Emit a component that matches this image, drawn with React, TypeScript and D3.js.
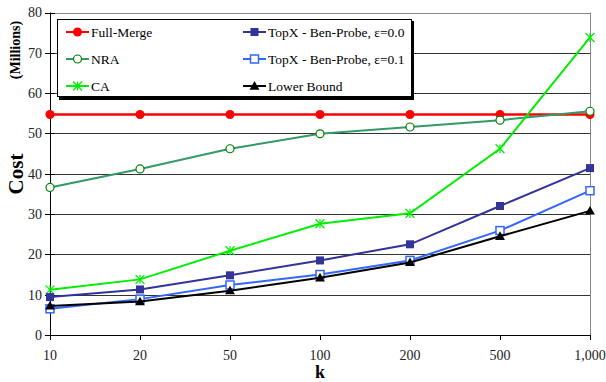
import React from 'react';
import * as d3 from 'd3';

const kValues = ['10', '20', '50', '100', '200', '500', '1,000'];
const yTicks = [0, 10, 20, 30, 40, 50, 60, 70, 80];

const fullMerge = [54.7, 54.7, 54.7, 54.7, 54.7, 54.7, 54.7];
const nra = [36.6, 41.2, 46.2, 49.9, 51.6, 53.3, 55.5];
const ca = [11.2, 13.8, 20.9, 27.6, 30.2, 46.2, 73.8];
const topx00 = [9.4, 11.3, 14.8, 18.5, 22.5, 32.0, 41.4];
const topx01 = [6.5, 8.9, 12.4, 15.0, 18.5, 25.9, 35.8];
const lowerBound = [7.2, 8.3, 11.0, 14.2, 18.0, 24.5, 30.8];

type Marker = 'dot' | 'ring' | 'star' | 'square' | 'openSquare' | 'triangle';

const seriesList: { name: string; values: number[]; color: string; marker: Marker; edge?: string }[] = [
  { name: 'Full-Merge', values: fullMerge, color: '#ff0000', marker: 'dot' },
  { name: 'NRA', values: nra, color: '#339966', marker: 'ring', edge: '#008000' },
  { name: 'CA', values: ca, color: '#00ee00', marker: 'star' },
  { name: 'TopX - Ben-Probe, ε=0.0', values: topx00, color: '#333399', marker: 'square' },
  { name: 'TopX - Ben-Probe, ε=0.1', values: topx01, color: '#3366ff', marker: 'openSquare' },
  { name: 'Lower Bound', values: lowerBound, color: '#000000', marker: 'triangle' },
];

const W = 606;
const H = 382;
const margin = { left: 50, right: 16, top: 12.5, bottom: 47 };
const font = "'Liberation Serif', 'Times New Roman', serif";

function MarkerShape({ kind, x, y, color, edge }: { kind: Marker; x: number; y: number; color: string; edge?: string }) {
  if (kind === 'dot') return <circle cx={x} cy={y} r={4.5} fill={color} />;
  if (kind === 'ring') return <circle cx={x} cy={y} r={4} fill="#fff" stroke={edge || color} strokeWidth={1.2} />;
  if (kind === 'square') return <rect x={x - 4} y={y - 4} width={8} height={8} fill={color} />;
  if (kind === 'openSquare') return <rect x={x - 4} y={y - 4} width={8} height={8} fill="#fff" stroke={color} strokeWidth={1.5} />;
  if (kind === 'triangle') {
    const tri = d3.symbol().type(d3.symbolTriangle).size(42)();
    return <path d={tri || ''} transform={`translate(${x},${y + 0.8})`} fill={color} />;
  }
  const s = 4.5;
  return (
    <g transform={`translate(${x},${y})`} stroke={color} strokeWidth={1.2}>
      <line x1={-s} y1={-s} x2={s} y2={s} />
      <line x1={-s} y1={s} x2={s} y2={-s} />
      <line x1={0} y1={-s} x2={0} y2={s} />
    </g>
  );
}

export default function App() {
  const x = d3.scalePoint<string>().domain(kValues).range([margin.left, W - margin.right]).padding(0);
  const y = d3.scaleLinear().domain([0, 80]).range([H - margin.bottom, margin.top]);
  const line = d3.line<number>().x((_, i) => x(kValues[i]) as number).y(d => y(d));

  const x0 = margin.left;
  const x1 = W - margin.right;
  const yb = y(0);
  const yt = y(80);

  const legendCols = [66, 243];
  const legendRows = [32, 59, 86];

  return (
    <div style={{ position: 'absolute', left: 0, top: 0 }}>
      <svg width={W} height={H} style={{ display: 'block', background: '#fff', fontFamily: font }}>
        {/* grid */}
        {yTicks.filter(t => t > 0 && t < 80).map(t => (
          <line key={t} x1={x0} x2={x1} y1={Math.round(y(t)) + 0.5} y2={Math.round(y(t)) + 0.5} stroke="#333" strokeWidth={1} />
        ))}
        <line x1={x0} x2={x1} y1={Math.round(yt) + 0.5} y2={Math.round(yt) + 0.5} stroke="#888" />
        <line x1={x1 + 0.5} x2={x1 + 0.5} y1={yt} y2={yb} stroke="#888" />

        {/* axes */}
        <line x1={x0 + 0.5} x2={x0 + 0.5} y1={yt} y2={yb + 5} stroke="#000" />
        <line x1={x0} x2={x1 + 1} y1={Math.round(yb) + 0.5} y2={Math.round(yb) + 0.5} stroke="#000" />
        {yTicks.map(t => (
          <g key={t}>
            <line x1={x0 - 5} x2={x0 + 5} y1={Math.round(y(t)) + 0.5} y2={Math.round(y(t)) + 0.5} stroke="#000" />
            <text x={x0 - 8} y={y(t)} dy="0.35em" textAnchor="end" fontSize={14} fill="#222">{t}</text>
          </g>
        ))}
        {kValues.map(k => (
          <g key={k}>
            <line x1={Math.round(x(k) as number) + 0.5} x2={Math.round(x(k) as number) + 0.5} y1={yb} y2={yb + 5} stroke="#000" />
            <text x={x(k)} y={yb + 25} textAnchor="middle" fontSize={14} fill="#222">{k}</text>
          </g>
        ))}

        {/* axis titles */}
        <text x={(x0 + x1) / 2} y={378} textAnchor="middle" fontSize={18} fontWeight="bold">k</text>
        <text transform="translate(23,174) rotate(-90)" textAnchor="middle" fontSize={21} fontWeight="bold">Cost</text>
        <text transform="translate(20,50) rotate(-90)" textAnchor="middle" fontSize={14} fontWeight="bold">(Millions)</text>

        {/* series */}
        {seriesList.map(s => (
          <g key={s.name}>
            <path d={line(s.values) || ''} fill="none" stroke={s.color} strokeWidth={s.marker === 'dot' ? 2.5 : 2} />
            {s.values.map((v, i) => (
              <MarkerShape key={i} kind={s.marker} x={x(kValues[i]) as number} y={y(v)} color={s.color} edge={s.edge} />
            ))}
          </g>
        ))}

        {/* legend */}
        <rect x={59} y={21} width={355} height={79} fill="#000" />
        <rect x={57.5} y={19.5} width={354} height={77} fill="#fff" stroke="#000" strokeWidth={1} />
        {seriesList.map((s, i) => {
          const cx = legendCols[Math.floor(i / 3)];
          const cy = legendRows[i % 3];
          return (
            <g key={s.name}>
              <line x1={cx} x2={cx + 23} y1={cy} y2={cy} stroke={s.color} strokeWidth={2} />
              <MarkerShape kind={s.marker} x={cx + 11.5} y={cy} color={s.color} edge={s.edge} />
              <text x={cx + 25} y={cy} dy="0.35em" fontSize={13.5} fill="#000">{s.name}</text>
            </g>
          );
        })}
      </svg>
    </div>
  );
}
